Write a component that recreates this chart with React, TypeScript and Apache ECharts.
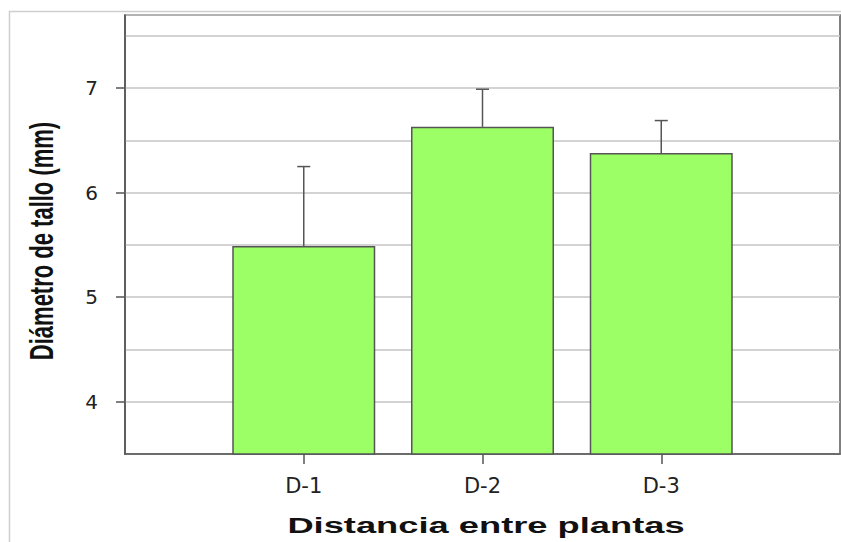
import React, { useEffect, useRef } from "react";
import * as echarts from "echarts";

const categories = ["D-1", "D-2", "D-3"];
const means = [5.49, 6.63, 6.38];
const upperErrors = [6.25, 6.99, 6.69];
const yTickLabels = [4, 5, 6, 7];
const xTitle = "Distancia entre plantas";
const yTitle = "Diámetro de tallo (mm)";

export default function App() {
  const ref = useRef<HTMLDivElement>(null);
  useEffect(() => {
    const chart = echarts.init(ref.current!, null, { renderer: "svg" });
    const axisData = ["", ...categories, ""];
    const barData: any[] = ["-", ...means, "-"];
    const errData = categories.map((c, i) => [i + 1, means[i], upperErrors[i]]);
    chart.setOption({
      animation: false,
      backgroundColor: "#ffffff",
      graphic: [
        {
          type: "rect",
          shape: { x: 9.5, y: 11.5, width: 850, height: 560 },
          style: { fill: "none", stroke: "#cfcfcf", lineWidth: 1.5 },
          silent: true,
          z: -10,
        },
        {
          type: "text",
          x: 486,
          y: 525,
          scaleX: 1.65,
          style: {
            text: xTitle,
            fontFamily: "Liberation Sans, Arial, sans-serif",
            fontWeight: "bold",
            fontSize: 22,
            fill: "#111",
            align: "center",
            verticalAlign: "middle",
          },
        },
        {
          type: "text",
          x: 41,
          y: 241,
          rotation: Math.PI / 2,
          scaleY: 1.55,
          style: {
            text: yTitle,
            fontFamily: "Liberation Sans, Arial, sans-serif",
            fontWeight: "bold",
            fontSize: 22,
            fill: "#111",
            align: "center",
            verticalAlign: "middle",
          },
        },
      ],
      grid: {
        left: 125,
        top: 15,
        right: 1,
        bottom: 88,
        outerBoundsMode: "none",
        containLabel: false,
        show: true,
        borderColor: "#555",
        borderWidth: 1.5,
        backgroundColor: "#fff",
      },
      xAxis: {
        type: "category",
        data: axisData,
        boundaryGap: false,
        axisLine: { show: true, lineStyle: { color: "#555", width: 1.5 } },
        axisTick: {
          show: true,
          length: 10,
          interval: (i: number) => i >= 1 && i <= categories.length,
          lineStyle: { color: "#555", width: 1.5 },
        },
        axisLabel: {
          margin: 21,
          interval: 0,
          fontFamily: "DejaVu Sans, sans-serif",
          fontSize: 21,
          color: "#222",
        },
        splitLine: { show: false },
      },
      yAxis: [
        {
          type: "value",
          min: 3.5,
          max: 7.7,
          interval: 0.5,
          axisLine: { show: false },
          axisTick: { show: false },
          axisLabel: { show: false },
          splitLine: { show: true, lineStyle: { color: "#c4c4c4", width: 1.5 } },
        },
        {
          type: "value",
          min: 3.5,
          max: 7.7,
          position: "left",
          axisLine: { show: true, lineStyle: { color: "#555", width: 1.5 } },
          axisTick: {
            show: true,
            length: 9,
            customValues: yTickLabels,
            lineStyle: { color: "#555", width: 1.5 },
          },
          axisLabel: {
            customValues: yTickLabels,
            margin: 27,
            fontFamily: "DejaVu Sans, sans-serif",
            fontSize: 20,
            color: "#222",
          },
          splitLine: { show: false },
        },
      ],
      series: [
        {
          type: "bar",
          data: barData,
          barWidth: 143,
          itemStyle: { color: "#9cff66", borderColor: "#555", borderWidth: 1.5 },
          z: 2,
        },
        {
          type: "custom",
          data: errData,
          z: 3,
          renderItem: (params: any, api: any) => {
            const x = api.value(0);
            const top = api.coord([x, api.value(1)]);
            const hi = api.coord([x, api.value(2)]);
            const cap = 6.5;
            return {
              type: "group",
              children: [
                {
                  type: "line",
                  shape: { x1: top[0], y1: top[1], x2: hi[0], y2: hi[1] },
                  style: { stroke: "#555", lineWidth: 1.5 },
                },
                {
                  type: "line",
                  shape: { x1: hi[0] - cap, y1: hi[1], x2: hi[0] + cap, y2: hi[1] },
                  style: { stroke: "#555", lineWidth: 1.5 },
                },
              ],
            };
          },
        },
      ],
    });
    return () => chart.dispose();
  }, []);
  return (
    <div
      ref={ref}
      style={{ position: "fixed", left: 0, top: 0, width: 841, height: 542 }}
    />
  );
}
